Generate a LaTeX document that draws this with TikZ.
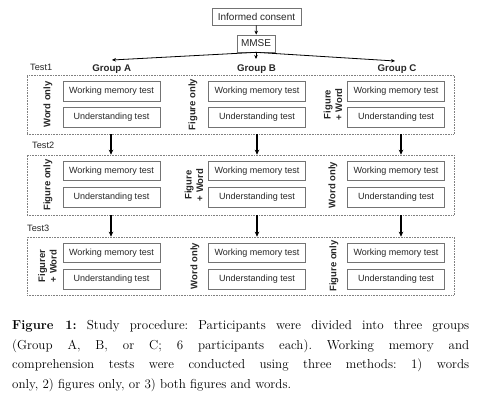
\documentclass[tikz,border=0pt]{standalone}
\usepackage{fontspec}
\newfontfamily\sansf{Liberation Sans}
\usetikzlibrary{arrows.meta}
\begin{document}
\begin{tikzpicture}[x=1pt,y=-1pt,
 tbox/.style={draw=black!55, line width=0.7pt, minimum width=97pt, minimum height=19.5pt, inner sep=0pt, font=\sansf\fontsize{9}{11}\selectfont, text=black!85},
 topbox/.style={draw=black!55, line width=0.7pt, inner sep=0pt, font=\sansf\fontsize{10}{12}\selectfont, text=black!85},
 dbox/.style={draw=black!50, densely dotted, line width=0.6pt, minimum width=427pt, inner sep=0pt},
 grp/.style={font=\sansf\bfseries\fontsize{9.7}{12}\selectfont, anchor=base, inner sep=0pt, text=black!85},
 tlab/.style={font=\sansf\fontsize{9.2}{11}\selectfont, anchor=base west, inner sep=0pt, text=black!85},
 rlab/.style={rotate=90, font=\sansf\bfseries\fontsize{9.5}{11.5}\selectfont, align=center, inner sep=0pt, text=black!85},
 thinarrow/.style={line width=0.8pt, -{Stealth[length=4pt,width=3.5pt]}},
 thickarrow/.style={line width=1.6pt, -{Stealth[length=5pt,width=4.5pt]}},
]
\useasboundingbox (0,0) rectangle (492,403);

% top
\node[topbox, minimum width=89pt, minimum height=17pt] (ic) at (256.5,16.5) {Informed consent};
\node[topbox, minimum width=38pt, minimum height=17pt] (mmse) at (256,43.5) {MMSE};
\draw[thinarrow] (ic) -- (mmse);
\coordinate (cA) at (112,60);
\coordinate (cB) at (256,59);
\coordinate (cC) at (395,61);
\draw[thinarrow] (mmse.south) -- (cA);
\draw[thinarrow] (mmse.south) -- (cB);
\draw[thinarrow] (mmse.south) -- (cC);

\node[grp] (gA) at (111.7,72) {Group A};
\node[grp] (gB) at (256.5,72) {Group B};
\node[grp] (gC) at (397,72) {Group C};

% test labels
\node[tlab] (t1) at (30,71) {Test1};
\node[tlab] (t2) at (32,149) {Test2};
\node[tlab] (t3) at (27,232) {Test3};

% dotted boxes
\node[dbox, minimum height=59pt] (d1) at (240.5,104.5) {};
\node[dbox, minimum height=60pt] (d2) at (240.5,185) {};
\node[dbox, minimum height=58pt] (d3) at (240.5,266) {};

% test 1
\node[tbox] (a1w) at (111.5,91.5) {Working memory test};
\node[tbox] (a1u) at (111.5,117.5) {Understanding test};
\node[tbox] (b1w) at (257,91.5) {Working memory test};
\node[tbox] (b1u) at (257,117.5) {Understanding test};
\node[tbox] (c1w) at (396,91.5) {Working memory test};
\node[tbox] (c1u) at (396,117.5) {Understanding test};
\node[rlab] (ra1) at (48,104.5) {Word only};
\node[rlab] (rb1) at (193,104.5) {Figure only};
\node[rlab] (rc1) at (333,104.5) {Figure\\+ Word};

% test 2
\node[tbox] (a2w) at (111.5,171) {Working memory test};
\node[tbox] (a2u) at (111.5,197.5) {Understanding test};
\node[tbox] (b2w) at (257,171) {Working memory test};
\node[tbox] (b2u) at (257,197.5) {Understanding test};
\node[tbox] (c2w) at (396,171) {Working memory test};
\node[tbox] (c2u) at (396,197.5) {Understanding test};
\node[rlab] (ra2) at (48,185) {Figure only};
\node[rlab] (rb2) at (194,185) {Figure\\+ Word};
\node[rlab] (rc2) at (333,185) {Word only};

% test 3
\node[tbox] (a3w) at (111.5,253) {Working memory test};
\node[tbox] (a3u) at (111.5,279.5) {Understanding test};
\node[tbox] (b3w) at (257,253) {Working memory test};
\node[tbox] (b3u) at (257,279.5) {Understanding test};
\node[tbox] (c3w) at (396,253) {Working memory test};
\node[tbox] (c3u) at (396,279.5) {Understanding test};
\node[rlab] (ra3) at (47.5,266) {Figurer\\+ Word};
\node[rlab] (rb3) at (195,266) {Word only};
\node[rlab] (rc3) at (334,266) {Figure only};

% arrows between tests
\coordinate (xA) at (111,0);
\coordinate (xB) at (257,0);
\coordinate (xC) at (401,0);
\foreach \c in {xA,xB,xC}{
  \draw[thickarrow] (d1.south -| \c) -- (d2.north -| \c);
  \draw[thickarrow] (d2.south -| \c) -- (d3.north -| \c);
}

% caption
\node[anchor=north west, text width=457pt, align=justify, inner sep=0pt, font=\fontsize{13}{19.7}\selectfont\frenchspacing] (cap) at (12,320) {\textbf{Figure 1:} Study procedure: Participants were divided into three groups\linebreak (Group A, B, or C; 6 participants each). Working memory and\linebreak comprehension tests were conducted using three methods: 1) words\linebreak only, 2) figures only, or 3) both figures and words.};
\end{tikzpicture}
\end{document}
